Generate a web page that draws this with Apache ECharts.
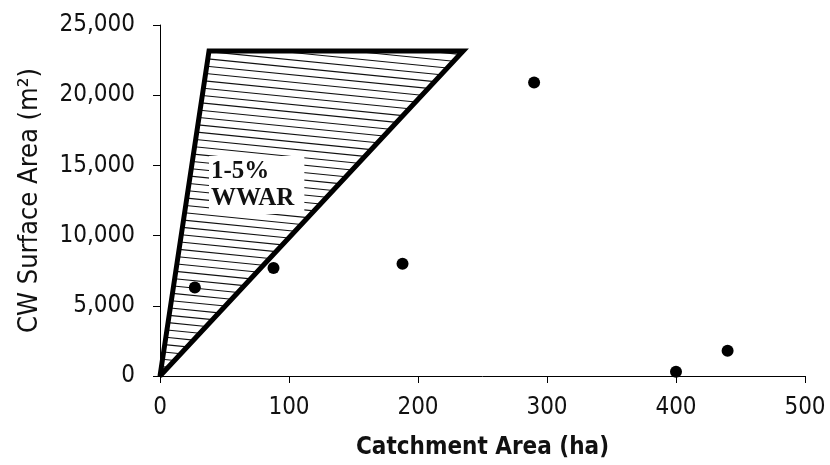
<!DOCTYPE html>
<html><head><meta charset="utf-8">
<script src="https://cdn.jsdelivr.net/npm/echarts@6/dist/echarts.min.js"></script>
<style>html,body{margin:0;padding:0;background:#fff}#c{width:830px;height:465px}</style>
</head><body><div id="c"></div>
<script>
// Data
const catchmentHa = [27, 88, 188, 290, 400, 440];
const cwAreaM2   = [6300, 7700, 8000, 20900, 300, 1800];
// 1-5% WWAR envelope (triangle vertices in data units)
const wwarX = [0, 38, 235];
const wwarY = [0, 23150, 23150];
const wwarLabel = ['1-5%', 'WWAR'];
const xTitle = 'Catchment Area (ha)';
const yTitle = 'CW Surface Area (m\u00B2)';

const sansFont = '"DejaVu Sans Condensed", "DejaVu Sans", sans-serif';

function renderWwar(params, api) {
  const pts = wwarX.map((x, i) => api.coord([x, wwarY[i]]));
  const s = 0.1;
  const step = 7.4 * Math.sqrt(1 + s * s);
  const f = p => p[1] - s * p[0];
  const fs = pts.map(f);
  const cmin = Math.min(...fs), cmax = Math.max(...fs);
  const children = [];
  for (let c = cmin + step * 0.5; c < cmax; c += step) {
    const hits = [];
    for (let i = 0; i < 3; i++) {
      const a = pts[i], b = pts[(i + 1) % 3];
      const fa = f(a), fb = f(b);
      if (fa !== fb && (fa - c) * (fb - c) <= 0) {
        const t = (c - fa) / (fb - fa);
        hits.push([a[0] + t * (b[0] - a[0]), a[1] + t * (b[1] - a[1])]);
      }
    }
    if (hits.length >= 2) {
      hits.sort((p, q) => p[0] - q[0]);
      const h0 = hits[0], h1 = hits[hits.length - 1];
      children.push({type: 'line', shape: {x1: h0[0], y1: h0[1], x2: h1[0], y2: h1[1]},
        style: {stroke: '#111', lineWidth: 1.1}});
    }
  }
  children.push({type: 'polygon', shape: {points: pts},
    style: {fill: 'none', stroke: '#000', lineWidth: 5, lineJoin: 'miter', miterLimit: 3}});
  return {type: 'group', children};
}

const chart = echarts.init(document.getElementById('c'), null, {renderer: 'canvas'});
chart.setOption({
  animation: false,
  backgroundColor: '#fff',
  grid: {left: 160, right: 25, top: 25, bottom: 87, containLabel: false},
  xAxis: {
    type: 'value', min: 0, max: 500, interval: 100,
    axisLine: {show: true, lineStyle: {color: '#000', width: 1}},
    axisTick: {show: true, length: 7, lineStyle: {color: '#000'}},
    splitLine: {show: false},
    axisLabel: {fontSize: 24, fontFamily: sansFont, color: '#111', margin: 20},
    name: xTitle, nameLocation: 'middle', nameGap: 60,
    nameTextStyle: {fontSize: 24, fontWeight: 'bold', fontFamily: sansFont, color: '#111'}
  },
  yAxis: {
    type: 'value', min: 0, max: 25000, interval: 5000,
    axisLine: {show: true, lineStyle: {color: '#000', width: 1}},
    axisTick: {show: true, length: 7, lineStyle: {color: '#000'}},
    splitLine: {show: false},
    axisLabel: {fontSize: 24, fontFamily: sansFont, color: '#111', margin: 25,
      formatter: v => v.toLocaleString('en-US')},
    name: yTitle, nameLocation: 'middle', nameGap: 117,
    nameTextStyle: {fontSize: 27, fontFamily: sansFont, color: '#111'}
  },
  graphic: [{
    type: 'text', left: 209, top: 156, z: 100,
    style: {text: wwarLabel.join('\n'), font: 'bold 25px "Liberation Serif", serif',
      fill: '#111', lineHeight: 27, backgroundColor: '#fff', padding: [2, 10, 2, 2]}
  }],
  series: [
    {type: 'custom', renderItem: renderWwar, data: [0], silent: true, clip: false, z: 1},
    {type: 'scatter', data: catchmentHa.map((x, i) => [x, cwAreaM2[i]]),
      symbol: 'circle', symbolSize: 12, itemStyle: {color: '#000', opacity: 1}, z: 5}
  ]
});
</script></body></html>
